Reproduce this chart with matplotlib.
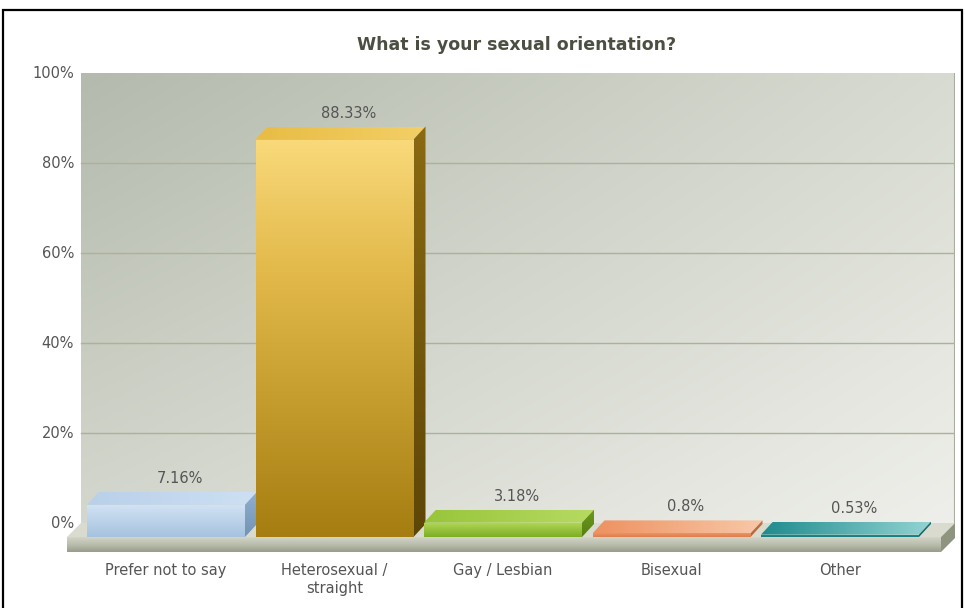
import numpy as np
import matplotlib
matplotlib.use("Agg")
import matplotlib.pyplot as plt
from matplotlib.patches import Polygon, Rectangle
from matplotlib.colors import to_rgb

# ---- data -------------------------------------------------------------
title = "What is your sexual orientation?"
categories = ["Prefer not to say", "Heterosexual /\nstraight", "Gay / Lesbian",
              "Bisexual", "Other"]
values = [7.16, 88.33, 3.18, 0.8, 0.53]
value_labels = ["7.16%", "88.33%", "3.18%", "0.8%", "0.53%"]
y_ticks = [0, 20, 40, 60, 80, 100]
y_tick_labels = ["0%", "20%", "40%", "60%", "80%", "100%"]

# per-bar face colours: front gradient stops (top -> bottom),
# top face (left -> right), side face (top -> bottom)
front_colors = [["#d2e3f4", "#a6c2df"],
                ["#f9d97a", "#e2b94a", "#c49c2e", "#a67d10"],
                ["#b3d858", "#7cae24"],
                ["#ec9464", "#e07c4c"],
                ["#23908f", "#187c7e"]]
top_colors = [["#b9d0ea", "#cde0f3"],
              ["#e8bc45", "#f3cf66"],
              ["#98c53a", "#b6da62"],
              ["#ee9160", "#f8c8a8"],
              ["#1f8b8d", "#93d3d3"]]
side_colors = [["#8fb0d0", "#7493b4"],
               ["#8a6a12", "#5e4607"],
               ["#6b9a1c", "#587f12"],
               ["#c87044", "#b5633a"],
               ["#1a7273", "#156465"]]

# ---- geometry (pixels -> data) ---------------------------------------
W, H, DPI = 965, 608, 100
SLOT = 168.5            # px per category
PPU = 4.5               # px per percent
x_lim = (-99 / SLOT, 789 / SLOT)
y_lim = (-15 / PPU, 464 / PPU)
bar_w = 158 / SLOT
bdx, bdy = 12 / SLOT, 13 / PPU      # bar depth
fdx, fdy = 14 / SLOT, 14 / PPU      # floor / wall depth
TXT = "#555555"
FS = 10.5


def stops_to_colors(stops, n=128):
    rgb = np.array([to_rgb(c) for c in stops])
    pos = np.linspace(0, 1, len(stops))
    t = np.linspace(0, 1, n)
    return np.stack([np.interp(t, pos, rgb[:, k]) for k in range(3)], axis=1)


def grad_poly(ax, verts, stops, horizontal=False, z=2):
    verts = np.asarray(verts, dtype=float)
    x0, y0 = verts.min(axis=0)
    x1, y1 = verts.max(axis=0)
    cols = stops_to_colors(stops)
    img = cols[None, :, :] if horizontal else cols[:, None, :]
    im = ax.imshow(img, extent=[x0, x1, y0, y1], origin="upper",
                   aspect="auto", interpolation="bilinear", zorder=z)
    clip = Polygon(verts, closed=True, transform=ax.transData)
    im.set_clip_path(clip)
    return im


fig = plt.figure(figsize=(W / DPI, H / DPI), dpi=DPI)
fig.patch.set_facecolor("white")
ax = fig.add_axes([67 / W, (H - 552) / H, (955 - 67) / W, (552 - 73) / H])
ax.set_facecolor("none")
for s in ax.spines.values():
    s.set_visible(False)

wall_l, wall_r = x_lim[0] + fdx, x_lim[1]
wall_b, wall_t = fdy, 100 + fdy

# back wall with 2-D gradient
corners = {"tl": "#b4baad", "tr": "#d8dbd1", "bl": "#d4d7cd", "br": "#eeefea"}
ny, nx = 60, 120
u = np.linspace(0, 1, nx)[None, :, None]
v = np.linspace(0, 1, ny)[:, None, None]
tl, tr, bl, br = (np.array(to_rgb(corners[k])) for k in ("tl", "tr", "bl", "br"))
wall = (1 - v) * ((1 - u) * tl + u * tr) + v * ((1 - u) * bl + u * br)
ax.imshow(wall, extent=[wall_l, wall_r, wall_b, wall_t], origin="upper",
          aspect="auto", interpolation="bilinear", zorder=0)
ax.plot([wall_r, wall_r], [wall_b, wall_t], color="#a9ad9f", lw=1.5, zorder=0.5)

# gridlines on the wall
for t in y_ticks[1:-1]:
    ax.plot([wall_l, wall_r], [t + fdy, t + fdy], color="#abb19b", lw=1.0, zorder=0.6)

# y labels beside the wall
for t, lab in zip(y_ticks, y_tick_labels):
    ax.annotate(lab, xy=(wall_l, t + fdy), xytext=(-5, 0), textcoords="offset points",
                ha="right", va="center", fontsize=FS, color=TXT,
                annotation_clip=False)

# floor slab
fl, fr = x_lim[0], x_lim[1] - fdx
ax.add_patch(Polygon([(fl, 0), (fr, 0), (fr + fdx, fdy), (fl + fdx, fdy)],
                     closed=True, facecolor="#d9dbcf", edgecolor="none", zorder=1))
grad_poly(ax, [(fl, y_lim[0]), (fr, y_lim[0]), (fr, 0), (fl, 0)],
          ["#d2d5c7", "#b9bdac", "#989d8b"], z=1)
ax.add_patch(Polygon([(fr, y_lim[0]), (fr + fdx, y_lim[0] + fdy), (fr + fdx, fdy), (fr, 0)],
                     closed=True, facecolor="#8f9481", edgecolor="none", zorder=1))

# 3-D bars
for i, val in enumerate(values):
    x0, x1 = i - bar_w / 2, i + bar_w / 2
    grad_poly(ax, [(x0, 0), (x1, 0), (x1, val), (x0, val)], front_colors[i], z=3)
    grad_poly(ax, [(x0, val), (x1, val), (x1 + bdx, val + bdy), (x0 + bdx, val + bdy)],
              top_colors[i], horizontal=True, z=3)
    grad_poly(ax, [(x1, 0), (x1 + bdx, bdy), (x1 + bdx, val + bdy), (x1, val)],
              side_colors[i], z=3)
    ax.text(i + 14 / SLOT, val + bdy + 3.0, value_labels[i], ha="center", va="center",
            fontsize=FS, color=TXT, zorder=4)

ax.set_xlim(*x_lim)
ax.set_ylim(*y_lim)
ax.set_xticks(range(len(categories)))
ax.set_xticklabels(categories, fontsize=FS, color=TXT, linespacing=1.25, va="top")
ax.tick_params(axis="x", length=0, pad=8)
ax.set_yticks([])

fig.text(517 / W, 1 - 45 / H, title, ha="center", va="center", fontsize=12.5,
         fontweight="bold", color="#4a4f42")

# outer frame
fig.patches.append(Rectangle((3 / W, -0.02), (962 - 3) / W, (H - 10) / H + 0.02,
                             transform=fig.transFigure, fill=False,
                             edgecolor="black", linewidth=1.6))

fig.savefig("out.png", dpi=DPI, facecolor="white")
